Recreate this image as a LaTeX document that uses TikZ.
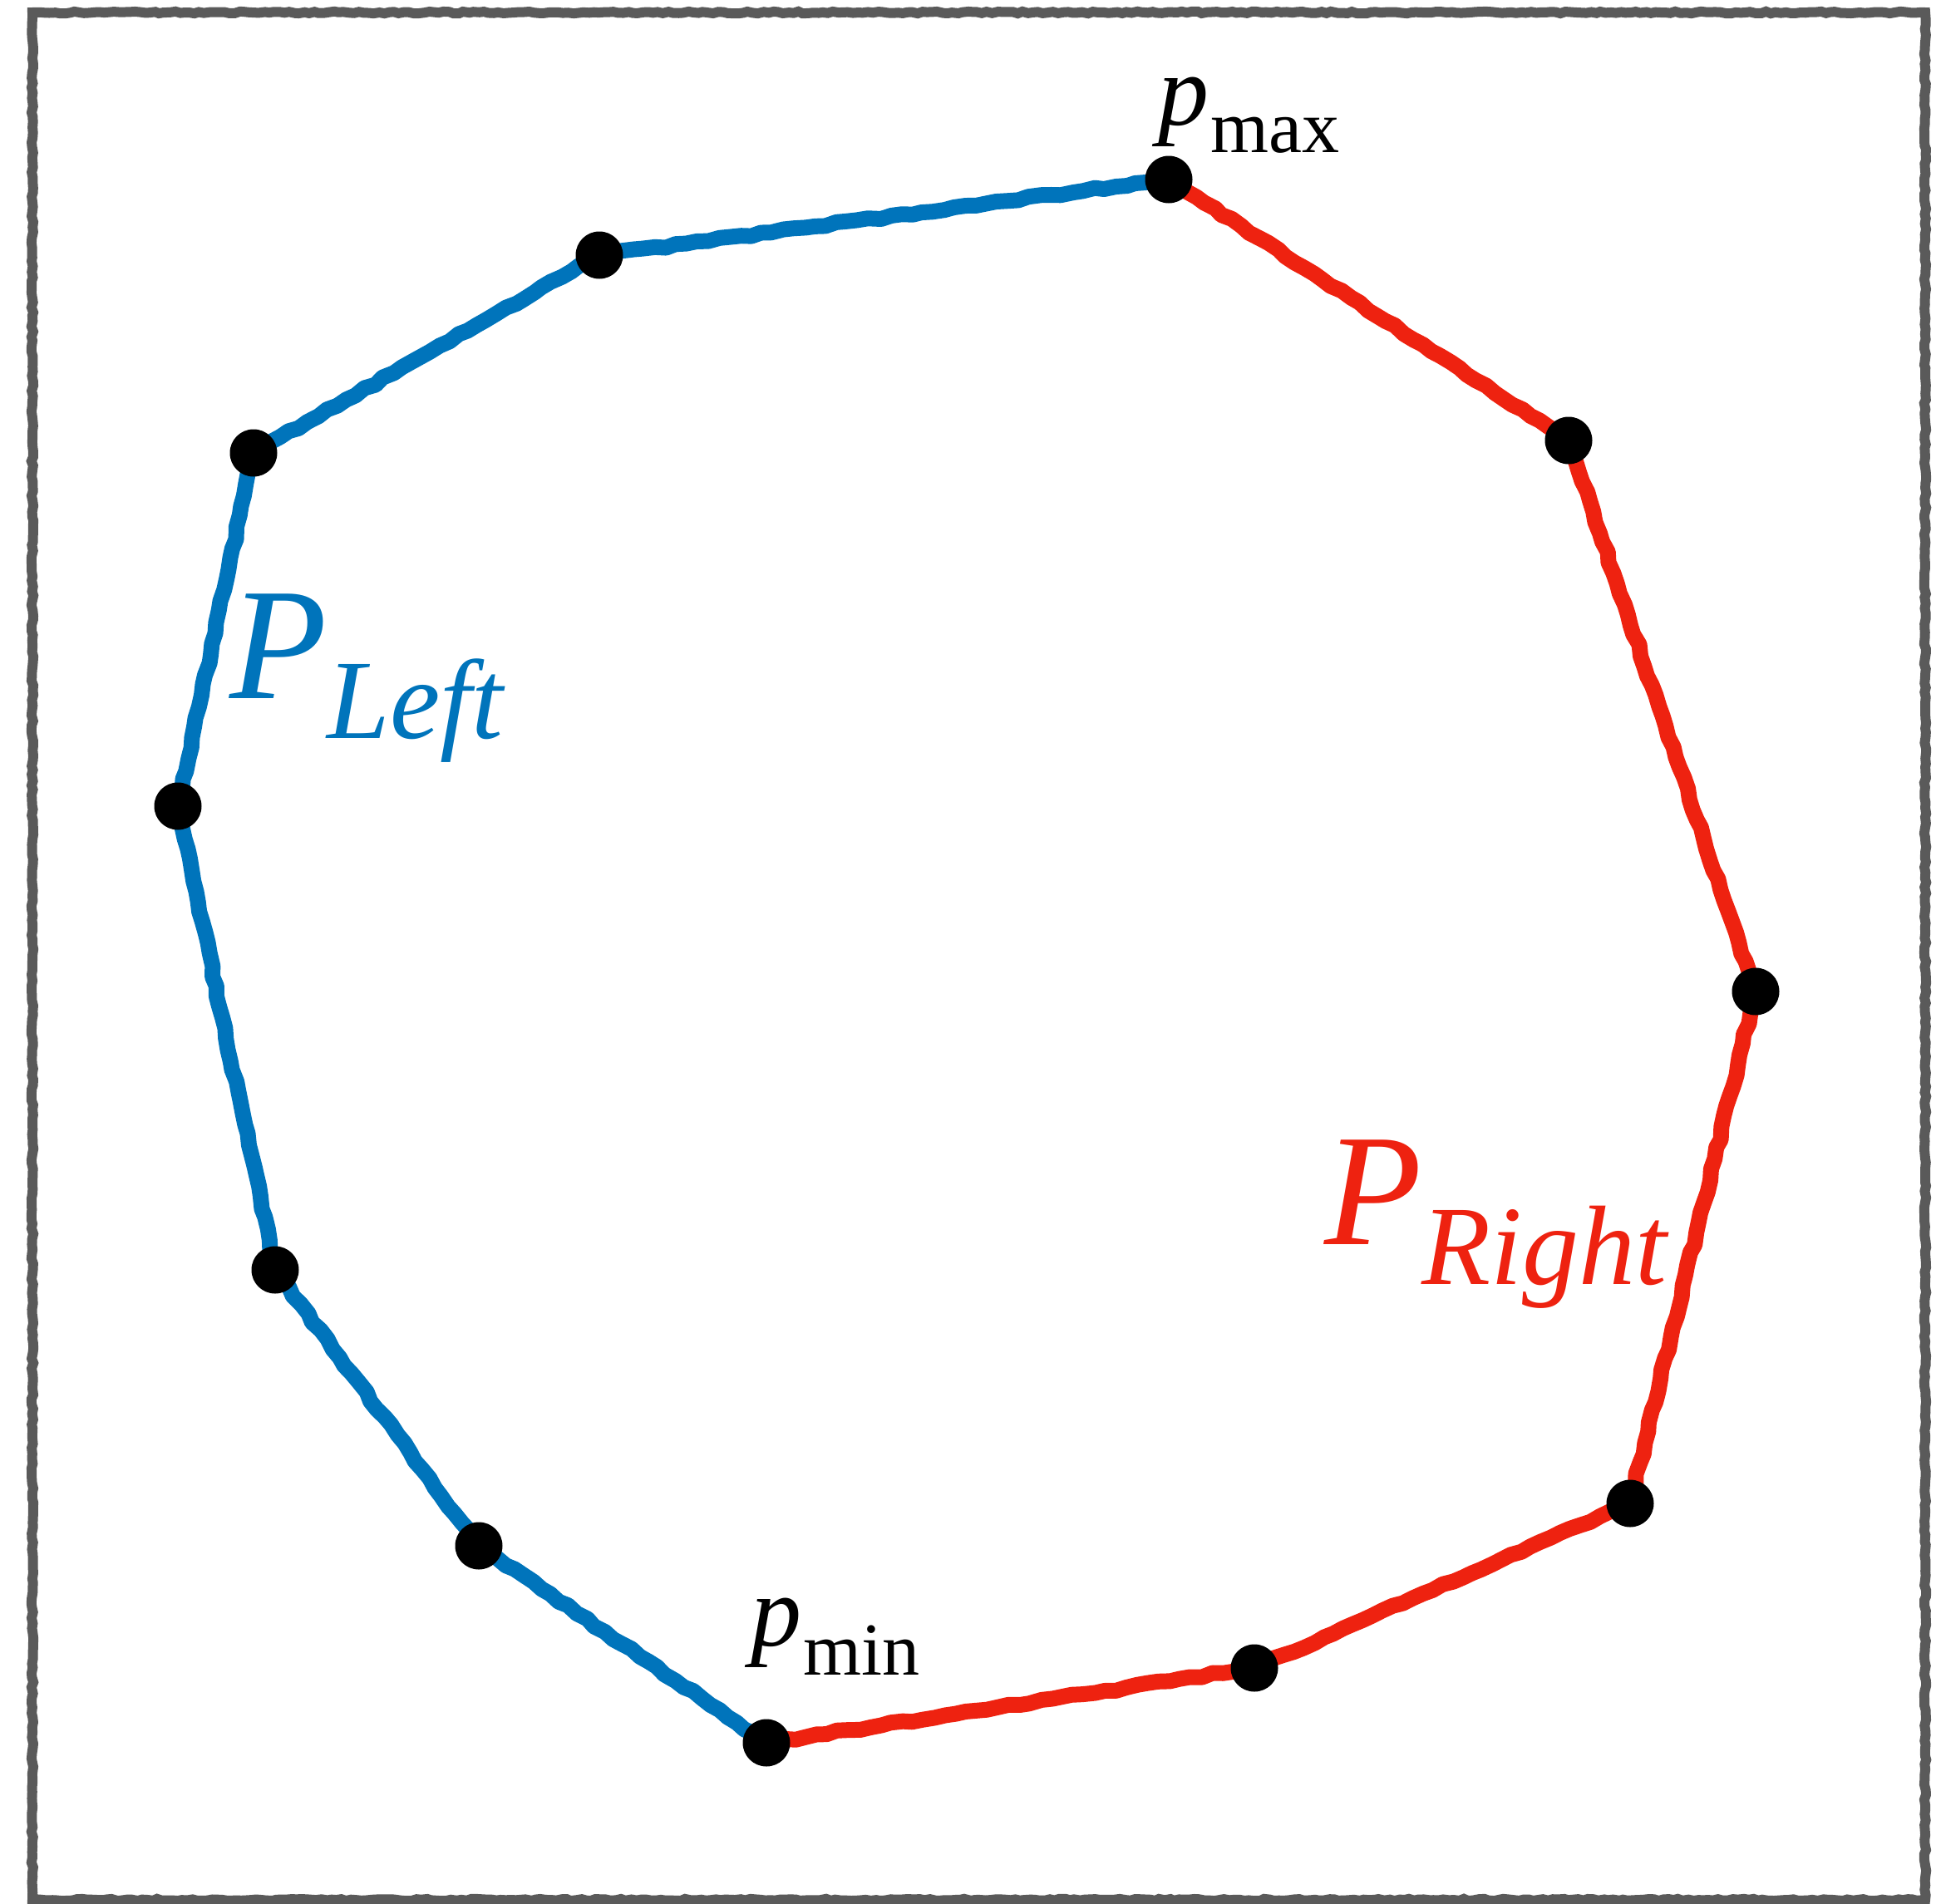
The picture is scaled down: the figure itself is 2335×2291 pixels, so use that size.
\documentclass[tikz,border=0pt]{standalone}
\usepackage{fontspec}
\setmainfont{Liberation Serif}
\usetikzlibrary{decorations.pathmorphing}
\definecolor{leftblue}{RGB}{0,116,187}
\definecolor{rightred}{RGB}{238,34,16}
\definecolor{framegray}{RGB}{90,90,90}
\tikzset{
  wobbly/.style={decorate, decoration={random steps, segment length=13pt, amplitude=1.8pt}, line join=round, line cap=round},
  leftchain/.style={wobbly, leftblue, line width=19pt},
  rightchain/.style={wobbly, rightred, line width=19pt},
  vertexdot/.style={circle, fill=black, minimum size=57pt, inner sep=0pt},
  smalllabel/.style={anchor=base west, inner sep=0pt, font=\fontsize{122}{122}\selectfont},
  biglabel/.style={anchor=base west, inner sep=0pt, font=\fontsize{192}{192}\selectfont},
}
\begin{document}
\begin{tikzpicture}[x=1pt, y=-1pt]
\pgfmathsetseed{11}
\useasboundingbox (0,0) rectangle (2335,2291);
\draw[framegray, line width=12pt, decorate, decoration={random steps, segment length=6pt, amplitude=1.2pt}] (39,15) rectangle (2316,2286);

\coordinate (pmax) at (1406,216);
\coordinate (r1) at (1887,530);
\coordinate (r2) at (2112,1193);
\coordinate (r3) at (1961,1809);
\coordinate (r4) at (1509,2007);
\coordinate (pmin) at (922,2097);
\coordinate (l5) at (576,1860);
\coordinate (l4) at (331,1528);
\coordinate (l3) at (214,970);
\coordinate (l2) at (305,545);
\coordinate (l1) at (721,307);

\draw[leftchain] (pmax) -- (l1) -- (l2) -- (l3) -- (l4) -- (l5) -- (pmin);
\draw[rightchain] (pmax) -- (r1) -- (r2) -- (r3) -- (r4) -- (pmin);

\foreach \c in {pmax,r1,r2,r3,r4,pmin,l5,l4,l3,l2,l1}
  \node[vertexdot] (dot-\c) at (\c) {};

\node[smalllabel] (labmax) at (1393,150) {\textit{p}\kern2pt\raisebox{-33pt}{\fontsize{90}{90}\selectfont max}};
\node[smalllabel] (labmin) at (903,1980) {\textit{p}\kern2pt\raisebox{-35pt}{\fontsize{90}{90}\selectfont min}};
\node[biglabel, text=leftblue] (lableft) at (276,840) {\textit{P}\raisebox{-48pt}{\fontsize{136}{136}\selectfont\textit{Left}}};
\node[biglabel, text=rightred] (labright) at (1593,1497) {\textit{P}\raisebox{-48pt}{\fontsize{136}{136}\selectfont\textit{Right}}};
\end{tikzpicture}
\end{document}
